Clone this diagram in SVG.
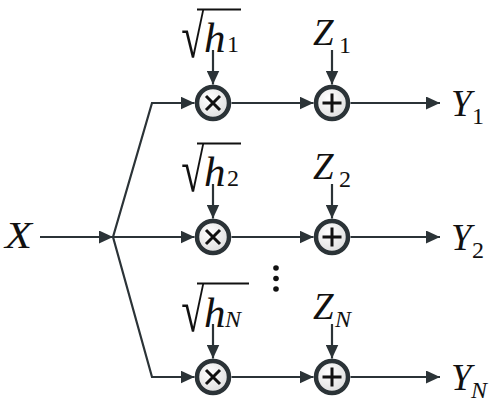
<svg xmlns="http://www.w3.org/2000/svg" width="497" height="405" viewBox="0 0 497 405">
<style>
.ln{fill:none;stroke:#2b3337;stroke-width:2.2;marker-end:url(#ah)}
.cir{fill:url(#cg);stroke:#2b3337;stroke-width:4.5}
.sym{stroke:#111;stroke-width:3;stroke-linecap:butt;fill:none}
text{font-family:'Liberation Serif','Times New Roman',serif;fill:#111}
.t{font-style:italic;font-size:37px}
.h{font-style:italic;font-size:43px}
.s{font-style:normal;font-size:24px}
.sn{font-style:italic;font-size:24px}
.rad{font-size:54px}
.bar{stroke:#111;stroke-width:2}
</style>
<defs>
<marker id="ah" markerUnits="userSpaceOnUse" markerWidth="14" markerHeight="13" refX="14" refY="6.5" orient="auto">
<path d="M0,0 L14,6.5 L0,13 z" fill="#2b3337"/>
</marker>
<radialGradient id="cg" cx="0.4" cy="0.35" r="0.7">
<stop offset="0" stop-color="#ffffff"/>
<stop offset="1" stop-color="#dcdcdc"/>
</radialGradient>
</defs>
<g id="connectors">
<line class="ln" x1="40" y1="237" x2="113" y2="237"/>
<polyline class="ln" points="113,237 152,103 194.5,103"/>
<line class="ln" x1="113" y1="237" x2="194.5" y2="237"/>
<polyline class="ln" points="113,237 152,377 194.5,377"/>
<line class="ln" x1="231.5" y1="103" x2="313.5" y2="103"/>
<line class="ln" x1="231.5" y1="237" x2="313.5" y2="237"/>
<line class="ln" x1="231.5" y1="377" x2="313.5" y2="377"/>
<line class="ln" x1="350.5" y1="103" x2="440" y2="103"/>
<line class="ln" x1="350.5" y1="237" x2="440" y2="237"/>
<line class="ln" x1="350.5" y1="377" x2="440" y2="377"/>
<line class="ln" x1="213" y1="50" x2="213" y2="84.5"/>
<line class="ln" x1="213" y1="184" x2="213" y2="218.5"/>
<line class="ln" x1="213" y1="324" x2="213" y2="358.5"/>
<line class="ln" x1="332" y1="50" x2="332" y2="84.5"/>
<line class="ln" x1="332" y1="184" x2="332" y2="218.5"/>
<line class="ln" x1="332" y1="324" x2="332" y2="358.5"/>
</g>
<g id="input"><text class="t" x="5" y="248" font-size="38" textLength="27" lengthAdjust="spacingAndGlyphs">X</text></g>
<g id="mult1"><circle class="cir" cx="213" cy="103" r="16"/><path class="sym" d="M206,96 L220,110 M220,96 L206,110"/></g>
<g id="mult2"><circle class="cir" cx="213" cy="237" r="16"/><path class="sym" d="M206,230 L220,244 M220,230 L206,244"/></g>
<g id="multN"><circle class="cir" cx="213" cy="377" r="16"/><path class="sym" d="M206,370 L220,384 M220,370 L206,384"/></g>
<g id="add1"><circle class="cir" cx="332" cy="103" r="16"/><path class="sym" d="M322.5,103 L341.5,103 M332,93.5 L332,112.5"/></g>
<g id="add2"><circle class="cir" cx="332" cy="237" r="16"/><path class="sym" d="M322.5,237 L341.5,237 M332,227.5 L332,246.5"/></g>
<g id="addN"><circle class="cir" cx="332" cy="377" r="16"/><path class="sym" d="M322.5,377 L341.5,377 M332,367.5 L332,386.5"/></g>
<g id="h1"><text class="rad" transform="translate(182,57) scale(0.78,1.13)" x="-1" y="0">√</text><line class="bar" x1="197" y1="9.5" x2="241" y2="9.5"/><text class="h" x="204" y="52">h</text><text class="s" x="227" y="52">1</text></g>
<g id="h2"><text class="rad" transform="translate(182,191) scale(0.78,1.13)" x="-1" y="0">√</text><line class="bar" x1="197" y1="143.5" x2="241" y2="143.5"/><text class="h" x="204" y="186">h</text><text class="s" x="227" y="186">2</text></g>
<g id="hN"><text class="rad" transform="translate(182,331) scale(0.78,1.13)" x="-1" y="0">√</text><line class="bar" x1="197" y1="283.5" x2="249" y2="283.5"/><text class="h" x="204" y="327">h</text><text class="sn" x="225" y="327">N</text></g>
<g id="z1"><text class="t" x="313" y="45">Z</text><text class="s" x="339" y="53">1</text></g>
<g id="z2"><text class="t" x="313" y="179">Z</text><text class="s" x="339" y="187">2</text></g>
<g id="zN"><text class="t" x="313" y="319">Z</text><text class="sn" x="335" y="327">N</text></g>
<g id="y1"><text class="t" x="451" y="116">Y</text><text class="s" x="472" y="124">1</text></g>
<g id="y2"><text class="t" x="451" y="250">Y</text><text class="s" x="472" y="258">2</text></g>
<g id="yN"><text class="t" x="451" y="390">Y</text><text class="sn" x="471" y="398">N</text></g>
<g id="dots"><circle cx="276" cy="268" r="2.8" fill="#111"/><circle cx="276" cy="278.5" r="2.8" fill="#111"/><circle cx="276" cy="289" r="2.8" fill="#111"/></g>
</svg>
